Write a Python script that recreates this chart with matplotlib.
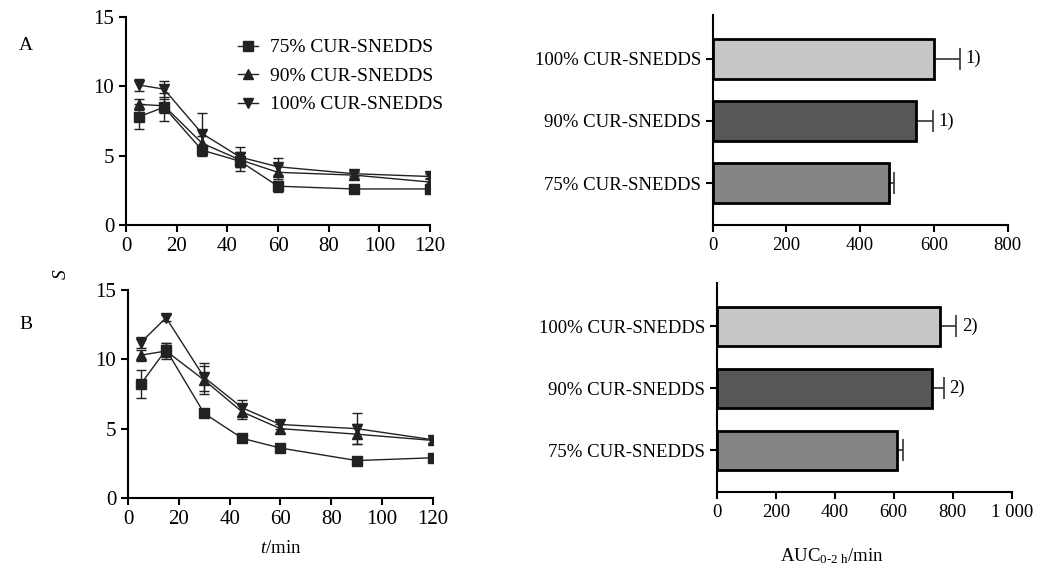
import matplotlib
matplotlib.use("Agg")
import matplotlib.pyplot as plt
from matplotlib.lines import Line2D
import numpy as np

plt.rcParams['font.family'] = ['Liberation Serif', 'DejaVu Serif']
plt.rcParams['mathtext.fontset'] = 'custom'
plt.rcParams['mathtext.rm'] = 'Liberation Serif'
plt.rcParams['mathtext.it'] = 'Liberation Serif:italic'

# время отбора проб, мин
t = [5, 15, 30, 45, 60, 90, 120]
groups = ["75% CUR-SNEDDS", "90% CUR-SNEDDS", "100% CUR-SNEDDS"]

# панель A
a75 = [7.8, 8.5, 5.4, 4.6, 2.8, 2.6, 2.6]
a75_err = [0.9, 1.0, 0.4, 0.7, 0.4, 0.15, 0.2]
a90 = [8.7, 8.6, 5.9, 4.7, 3.8, 3.6, 3.1]
a90_err = [0.4, 0.5, 0.5, 0.5, 0.5, 0.2, 0.3]
a100 = [10.1, 9.8, 6.6, 4.9, 4.2, 3.7, 3.5]
a100_err = [0.4, 0.6, 1.5, 0.7, 0.6, 0.2, 0.15]

# панель B
b75 = [8.2, 10.7, 6.1, 4.3, 3.6, 2.7, 2.9]
b75_err = [1.0, 0.5, 0.15, 0.1, 0.1, 0.1, 0.1]
b90 = [10.3, 10.6, 8.5, 6.2, 5.0, 4.6, 4.15]
b90_err = [0.4, 0.6, 1.0, 0.5, 0.3, 0.7, 0.2]
b100 = [11.2, 13.0, 8.7, 6.5, 5.3, 5.0, 4.2]
b100_err = [0.4, 0.2, 1.0, 0.6, 0.3, 1.1, 0.2]

# AUC
auc_a = [477, 552, 600]
auc_a_err = [15, 45, 70]
auc_b = [610, 729, 757]
auc_b_err = [20, 40, 54]
sig_a = ["", "1)", "1)"]
sig_b = ["", "2)", "2)"]
bar_colors = ["#858585", "#575757", "#c6c6c6"]

markers = ["s", "^", "v"]
LINE_C = '#222222'


def style_axes(ax, fs):
    ax.spines['top'].set_visible(False)
    ax.spines['right'].set_visible(False)
    ax.spines['left'].set_linewidth(1.5)
    ax.spines['bottom'].set_linewidth(1.5)
    ax.tick_params(direction='out', length=5, width=1.5, labelsize=fs)
    ax.set_facecolor('none')


def line_panel(ax, series, errs):
    for y, e, m in zip(series, errs, markers):
        ax.errorbar(t, y, yerr=e, marker=m, markersize=7.5, color=LINE_C,
                    lw=1, elinewidth=1, capsize=3.5, capthick=1)
    ax.set_xlim(0, 120)
    ax.set_ylim(0, 15)
    ax.set_xticks(range(0, 121, 20))
    ax.set_yticks([0, 5, 10, 15])
    style_axes(ax, 15)


def bar_panel(ax, vals, errs, sig, xmax, step, labels):
    pos = np.arange(len(groups))
    ax.barh(pos, vals, height=0.64, color=bar_colors, edgecolor='black', linewidth=2, zorder=2)
    ax.errorbar(vals, pos, xerr=[np.zeros(len(vals)), errs], fmt='none', ecolor='#333333',
                elinewidth=1.2, capsize=8, capthick=1.2, zorder=1)
    for p, v, e, s in zip(pos, vals, errs, sig):
        if s:
            ax.text(v + e + xmax * 0.02, p, s, va='center', ha='left', fontsize=13.5)
    ax.set_yticks(pos)
    ax.set_yticklabels(groups)
    ax.set_ylim(-0.67, 2.7)
    ax.set_xlim(0, xmax)
    ax.set_xticks(np.arange(0, xmax + 1, step))
    ax.set_xticklabels(labels)
    style_axes(ax, 13.5)


fig = plt.figure(figsize=(10.61, 5.72), dpi=100)

axA = fig.add_axes([0.1188, 0.6066, 0.2865, 0.3636])
line_panel(axA, [a75, a90, a100], [a75_err, a90_err, a100_err])
hs = [Line2D([], [], color=LINE_C, lw=1, marker=m, markersize=7.5) for m in markers]
axA.legend(hs, groups, loc='upper right', bbox_to_anchor=(1.1, 0.98), frameon=False,
           fontsize=14, handlelength=1.05, handletextpad=0.6, labelspacing=0.56)

axB = fig.add_axes([0.1206, 0.1294, 0.2875, 0.3636])
line_panel(axB, [b75, b90, b100], [b75_err, b90_err, b100_err])
axB.set_xlabel("$\\mathit{t}$/min", fontsize=13.5, labelpad=8)

axC = fig.add_axes([0.6717, 0.6066, 0.278, 0.367])
bar_panel(axC, auc_a, auc_a_err, sig_a, 800, 200, ["0", "200", "400", "600", "800"])

axD = fig.add_axes([0.6755, 0.1399, 0.278, 0.3654])
bar_panel(axD, auc_b, auc_b_err, sig_b, 1000, 200, ["0", "200", "400", "600", "800", "1 000"])
axD.set_xlabel("AUC$_{\\mathrm{0\\text{-}2\\ h}}$/min", fontsize=13.5)
axD.xaxis.set_label_coords(0.39, -0.26)

fig.text(0.018, 0.92, "A", fontsize=14, ha='left', va='center')
fig.text(0.018, 0.432, "B", fontsize=14, ha='left', va='center')
fig.text(0.058, 0.52, "S", fontsize=14, style='italic', rotation=90, ha='center', va='center')

fig.savefig("out.png", dpi=100, facecolor='white')
